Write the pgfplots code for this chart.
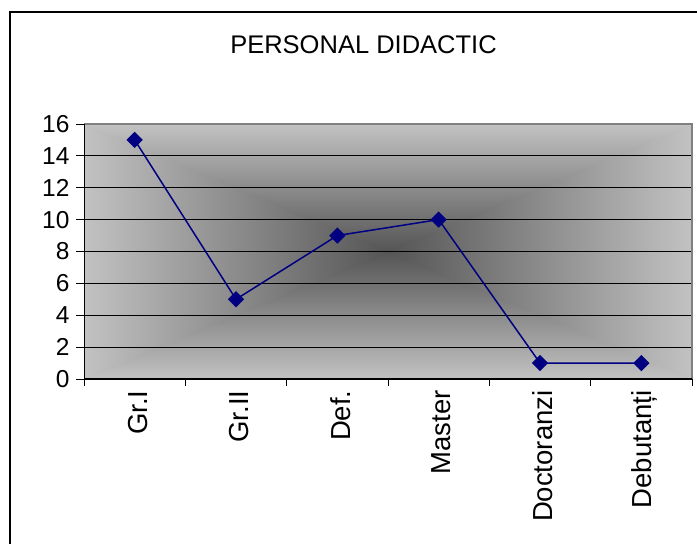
\documentclass[border=0pt]{standalone}
\usepackage{pgfplots}
\pgfplotsset{compat=1.18}
\usepackage{fontspec}
\setmainfont{Liberation Sans}
\definecolor{edgegray}{HTML}{C2C2C2}
\definecolor{centergray}{HTML}{555555}
\definecolor{navyline}{HTML}{000080}
\definecolor{bordergray}{HTML}{808080}
\begin{document}
\begin{tikzpicture}[x=1bp,y=1bp]
\useasboundingbox (0,0) rectangle (697,544);
\clip (0,0) rectangle (697,544);
\fill[white] (0,0) rectangle (697,544);
\draw[line width=2bp] (10,-20) rectangle (720,532);
% rectangular gradient from centre
\shade[left color=edgegray,right color=centergray] (84,165) rectangle (388,420);
\shade[right color=edgegray,left color=centergray] (388,165) rectangle (692,420);
\shade[top color=edgegray,bottom color=centergray] (84,420) -- (692,420) -- (388,292.5) -- cycle;
\shade[bottom color=edgegray,top color=centergray] (84,165) -- (692,165) -- (388,292.5) -- cycle;
\node[font=\fontsize{25.5bp}{28bp}\selectfont] at (363.5,499) {PERSONAL DIDACTIC};
\begin{axis}[
  at={(84bp,165bp)}, anchor=south west,
  scale only axis, width=608bp, height=255bp,
  xmin=-0.5, xmax=5.5, ymin=0, ymax=16,
  ytick={0,2,...,16},
  xtick={0,...,5},
  xticklabels={Gr.I, Gr.II, Def., Master, Doctoranzi, Debutanți},
  minor xtick={-0.5,0.5,...,5.5},
  major x tick style={draw=none},
  minor x tick style={black, line width=0.8bp},
  y tick style={black, line width=0.8bp},
  tick align=outside,
  xtick pos=bottom, ytick pos=left,
  major tick length=8bp, minor tick length=7bp,
  ymajorgrids, grid style={black, line width=0.9bp},
  axis line style={draw=none},
  /pgf/number format/assume math mode=true,
  ticklabel style={font=\fontsize{24.5bp}{27bp}\selectfont},
  x tick label style={rotate=90, anchor=east, yshift=-3bp, font=\fontsize{27.5bp}{30bp}\selectfont},
  y tick label style={xshift=-3bp},
]
\addplot[navyline, line width=1.5bp, mark=square*, mark size=5bp,
  mark options={rotate=45, fill=navyline, draw=navyline, solid}]
  coordinates {(0,15) (1,5) (2,9) (3,10) (4,1) (5,1)};
\end{axis}
\draw[bordergray, line width=2bp] (84,420) -- (692,420) -- (692,165);
\draw[black, line width=1bp] (84,420) -- (84,165) -- (692,165);
\end{tikzpicture}
\end{document}
